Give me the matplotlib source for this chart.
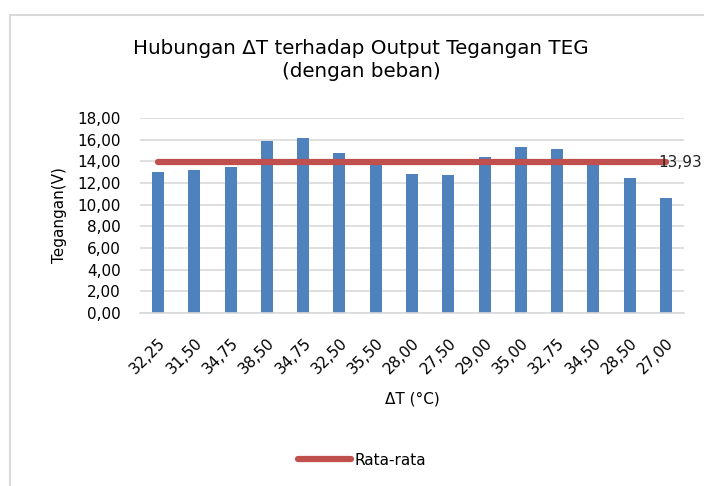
import matplotlib
matplotlib.use("Agg")
import matplotlib.pyplot as plt
from matplotlib.patches import Rectangle
from matplotlib.ticker import FuncFormatter

categories = ["32,25", "31,50", "34,75", "38,50", "34,75", "32,50", "35,50", "28,00",
              "27,50", "29,00", "35,00", "32,75", "34,50", "28,50", "27,00"]
tegangan = [13.05, 13.2, 13.5, 15.9, 16.2, 14.75, 13.9, 12.8, 12.7, 14.4, 15.3, 15.1, 13.9, 12.5, 10.6]
rata_rata = 13.93

plt.rcParams['font.family'] = ['DejaVu Sans']
W, H = 704, 486
fig = plt.figure(figsize=(W/100, H/100), dpi=100)
ax = fig.add_axes([140/W, 1-313/H, 544/W, 195/H])

x = list(range(len(categories)))
ax.bar(x, tegangan, width=0.33, color="#4F81BD", zorder=2)
avg = [rata_rata]*len(categories)
ax.plot(x, avg, color="#C0504D", lw=4.5, solid_capstyle="round", zorder=3, label="Rata-rata")
ax.text(x[-1]-0.2, rata_rata, f"{rata_rata:.2f}".replace(".", ","), ha="left", va="center",
        fontsize=11, color="#222222", zorder=4)

ax.set_xlim(-0.5, len(categories)-0.5)
ax.set_ylim(0, 18)
ax.set_yticks(range(0, 19, 2))
ax.yaxis.set_major_formatter(FuncFormatter(lambda v, p: f"{v:.2f}".replace(".", ",")))
ax.set_xticks(x)
ax.set_xticklabels(categories, rotation=45, ha="right", rotation_mode="anchor", fontsize=11)
ax.tick_params(axis="y", labelsize=11, length=0, pad=14)
ax.tick_params(axis="x", length=0, pad=16)
ax.grid(axis="y", color="#D9D9D9", lw=1.2, zorder=0)
for s in ["top", "right", "left"]:
    ax.spines[s].set_visible(False)
ax.spines["bottom"].set_color("#D9D9D9")
ax.spines["bottom"].set_linewidth(1.2)

ax.set_ylabel("Tegangan(V)", fontsize=11, labelpad=7)
ax.set_xlabel("ΔT (°C)", fontsize=11, labelpad=11)

fig.text(361/W, 1-60/H, "Hubungan ΔT terhadap Output Tegangan TEG\n(dengan beban)",
         ha="center", va="center", fontsize=14.3, linespacing=1.3)

fig.legend(handles=ax.get_lines(), loc="center", bbox_to_anchor=(362/W, 1-460/H),
           frameon=False, fontsize=11, handlelength=3.5, handletextpad=0.2)

fig.patches.append(Rectangle((10/W, -0.1), 1.2, 1-15/H+0.1, transform=fig.transFigure,
                             fill=False, edgecolor="#D9D9D9", lw=1.5))

fig.savefig("out.png", dpi=100)
